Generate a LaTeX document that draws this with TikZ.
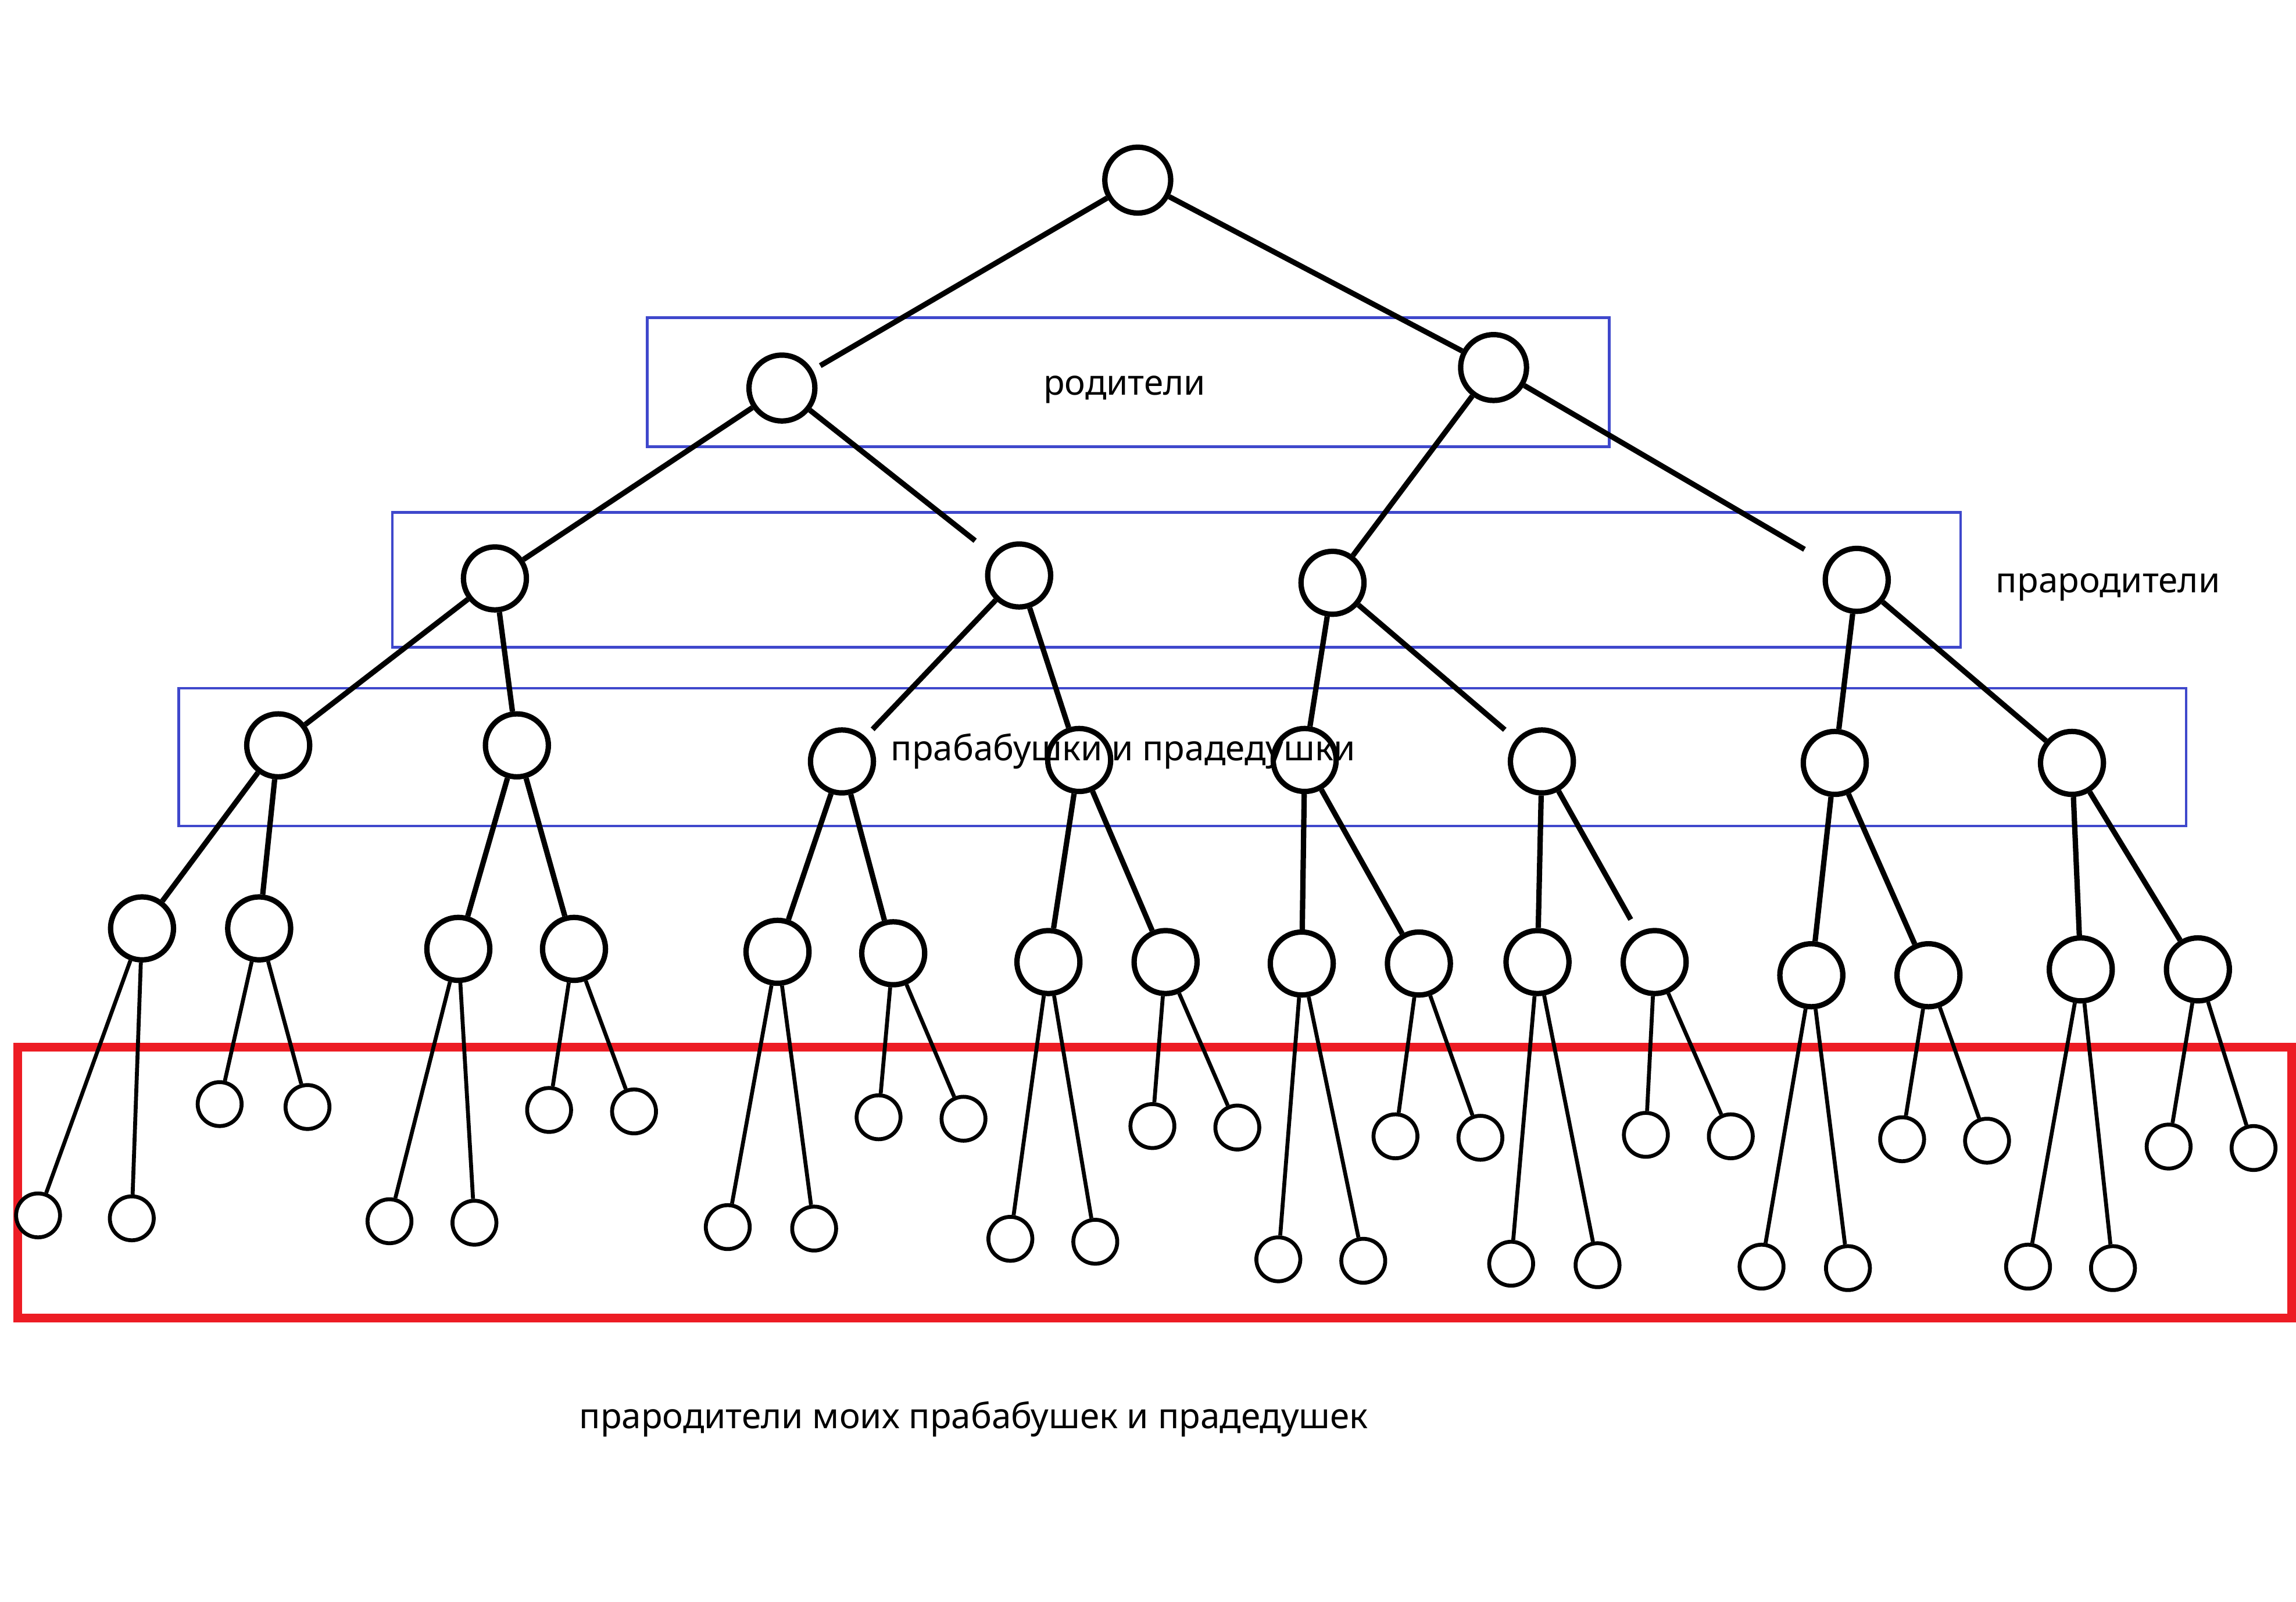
\documentclass[tikz,border=0pt]{standalone}
\usepackage{fontspec}
\setmainfont{Noto Sans}
\definecolor{boxblue}{HTML}{3F48CC}
\definecolor{boxred}{HTML}{ED1C24}
\begin{document}
\begin{tikzpicture}[x=0.05cm,y=-0.05cm,
  big/.style={circle,draw,line width=5.2pt,minimum size=2.25cm,inner sep=0pt,fill=white},
  mid/.style={circle,draw,line width=5.2pt,minimum size=2.15cm,inner sep=0pt,fill=white},
  small/.style={circle,draw,line width=3.8pt,minimum size=1.5cm,inner sep=0pt,fill=white},
  thick edge/.style={line width=5.2pt},
  thin edge/.style={line width=3.8pt},
  bluebox/.style={draw=boxblue,line width=2.6pt},
  redbox/.style={draw=boxred,line width=8.5pt},
  lbl/.style={inner sep=0pt,font=\fontsize{34}{40}\selectfont}]
\useasboundingbox (0,0) rectangle (1568,1094);
\fill[white] (0,0) rectangle (1568,1094);
% boxes
\draw[bluebox] (442,217) rectangle (1099,305);
\draw[bluebox] (268,350) rectangle (1339,442);
\draw[bluebox] (122,470) rectangle (1493,564);
\draw[redbox] (12,715) rectangle (1565,900);
% level 0-1
\node[big] (r) at (777,123) {};
\node[big] (a) at (534,265) {};
\node[big] (b) at (1020,251) {};
% level 2
\node[mid] (a1) at (338,395) {};
\node[mid] (a2) at (696,393) {};
\node[mid] (b1) at (910,398) {};
\node[mid] (b2) at (1268,396) {};
% level 3
\node[mid] (c1) at (190,509) {};
\node[mid] (c2) at (353,509) {};
\node[mid] (c3) at (575,520) {};
\node[mid] (c4) at (737,519) {};
\node[mid] (c5) at (891,519) {};
\node[mid] (c6) at (1053,520) {};
\node[mid] (c7) at (1253,521) {};
\node[mid] (c8) at (1415,521) {};
% level 4
\node[mid] (d1) at (97,634) {};
\node[mid] (d2) at (177,634) {};
\node[mid] (d3) at (313,648) {};
\node[mid] (d4) at (392,648) {};
\node[mid] (d5) at (531,650) {};
\node[mid] (d6) at (610,651) {};
\node[mid] (d7) at (716,657) {};
\node[mid] (d8) at (796,657) {};
\node[mid] (d9) at (889,658) {};
\node[mid] (d10) at (969,658) {};
\node[mid] (d11) at (1050,657) {};
\node[mid] (d12) at (1130,657) {};
\node[mid] (d13) at (1237,666) {};
\node[mid] (d14) at (1317,666) {};
\node[mid] (d15) at (1421,662) {};
\node[mid] (d16) at (1501,662) {};
% level 5
\node[small] (e1) at (26,830) {};
\node[small] (e2) at (90,832) {};
\node[small] (e3) at (150,754) {};
\node[small] (e4) at (210,756) {};
\node[small] (e5) at (266,834) {};
\node[small] (e6) at (324,835) {};
\node[small] (e7) at (375,758) {};
\node[small] (e8) at (433,759) {};
\node[small] (e9) at (497,838) {};
\node[small] (e10) at (556,839) {};
\node[small] (e11) at (600,763) {};
\node[small] (e12) at (658,764) {};
\node[small] (e13) at (690,846) {};
\node[small] (e14) at (748,848) {};
\node[small] (e15) at (787,769) {};
\node[small] (e16) at (845,770) {};
\node[small] (e17) at (873,860) {};
\node[small] (e18) at (931,861) {};
\node[small] (e19) at (953,776) {};
\node[small] (e20) at (1011,777) {};
\node[small] (e21) at (1032,863) {};
\node[small] (e22) at (1091,864) {};
\node[small] (e23) at (1124,775) {};
\node[small] (e24) at (1182,776) {};
\node[small] (e25) at (1203,865) {};
\node[small] (e26) at (1262,866) {};
\node[small] (e27) at (1299,778) {};
\node[small] (e28) at (1357,779) {};
\node[small] (e29) at (1385,865) {};
\node[small] (e30) at (1443,866) {};
\node[small] (e31) at (1481,783) {};
\node[small] (e32) at (1539,784) {};
% edges
\draw[thick edge,shorten >=0.3cm] (r) -- (a);
\draw[thick edge] (r) -- (b);
\draw[thick edge] (a) -- (a1);
\draw[thick edge,shorten >=0.75cm] (a) -- (a2);
\draw[thick edge] (b) -- (b1);
\draw[thick edge,shorten >=0.9cm] (b) -- (b2);
\draw[thick edge] (a1) -- (c1);
\draw[thick edge] (a1) -- (c2);
\draw[thick edge,shorten >=0.35cm] (a2) -- (c3);
\draw[thick edge] (a2) -- (c4);
\draw[thick edge] (b1) -- (c5);
\draw[thick edge,shorten >=0.5cm] (b1) -- (c6);
\draw[thick edge] (b2) -- (c7);
\draw[thick edge] (b2) -- (c8);
\foreach \p/\x/\y in {c1/d1/d2,c2/d3/d4,c3/d5/d6,c4/d7/d8,c5/d9/d10,c7/d13/d14,c8/d15/d16}{
  \draw[thick edge] (\p) -- (\x);
  \draw[thick edge] (\p) -- (\y);
}
\draw[thick edge] (c6) -- (d11);
\draw[thick edge,shorten >=0.5cm] (c6) -- (d12);
\foreach \p/\x/\y in {d1/e1/e2,d2/e3/e4,d3/e5/e6,d4/e7/e8,d5/e9/e10,d6/e11/e12,d7/e13/e14,d8/e15/e16,d9/e17/e18,d10/e19/e20,d11/e21/e22,d12/e23/e24,d13/e25/e26,d14/e27/e28,d15/e29/e30,d16/e31/e32}{
  \draw[thin edge] (\p) -- (\x);
  \draw[thin edge] (\p) -- (\y);
}
% labels
\node[lbl] (t1) at (768,266) {родители};
\node[lbl,anchor=west] (t2) at (1363,401) {прародители};
\node[lbl] (t3) at (767,513) {прабабушки и прадедушки};
\node[lbl] (t4) at (665,969) {прародители моих прабабушек и прадедушек};
\end{tikzpicture}
\end{document}
